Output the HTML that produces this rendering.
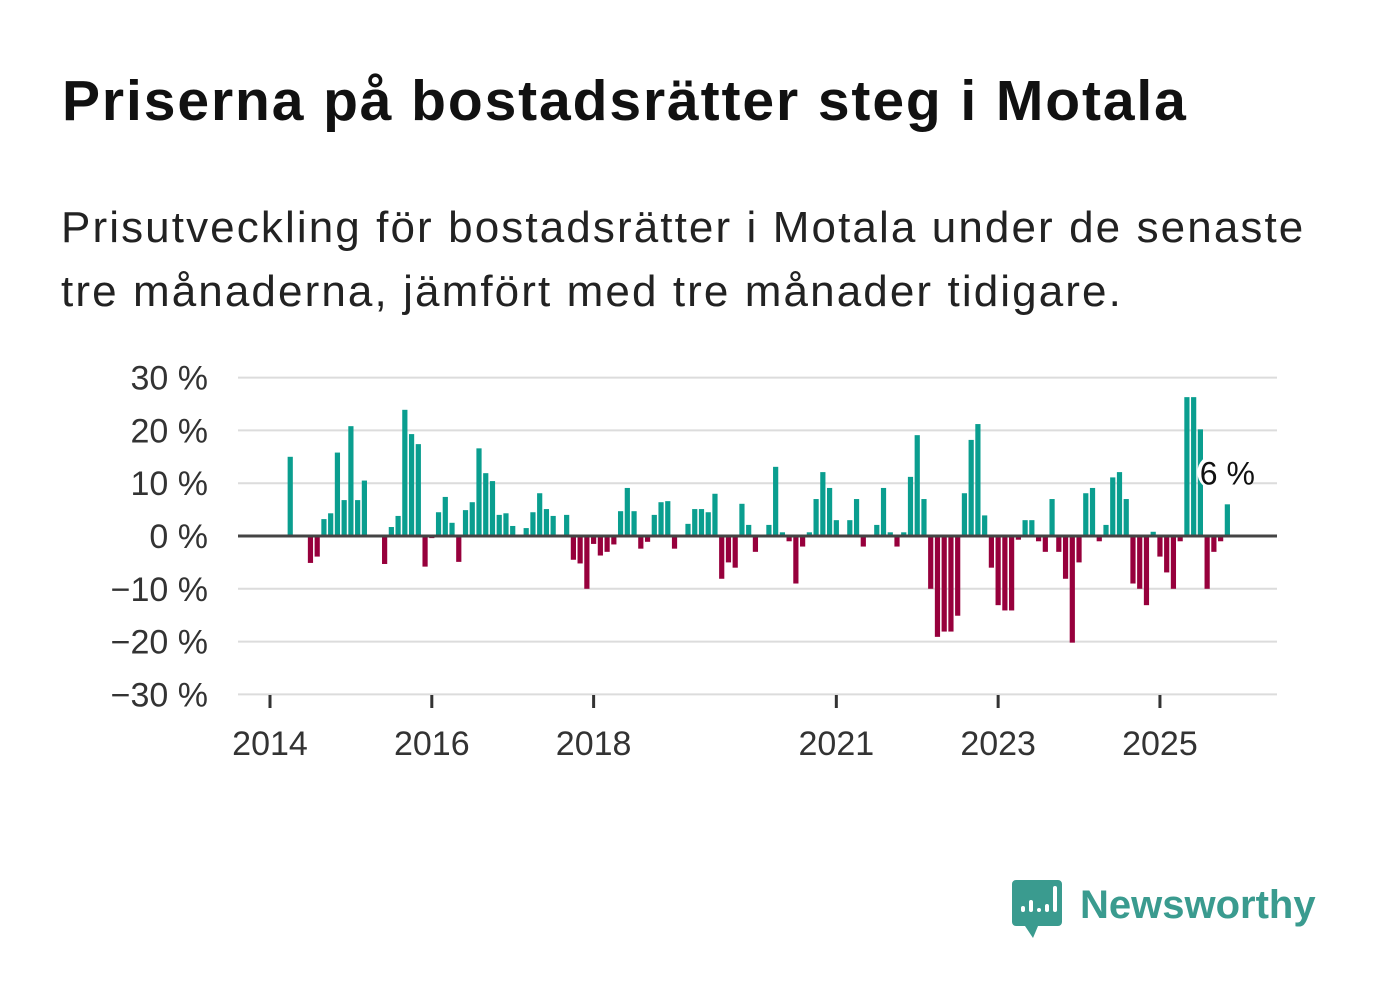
<!DOCTYPE html>
<html><head><meta charset="utf-8"><style>
html,body{margin:0;padding:0;background:#fff;width:1382px;height:999px;overflow:hidden;font-family:"Liberation Sans",sans-serif;}
#title{position:absolute;left:62px;top:68px;font-size:57px;line-height:66px;font-weight:bold;color:#111;margin:0;letter-spacing:1.9px;white-space:nowrap;}
#sub{position:absolute;left:61px;top:196px;font-size:44px;line-height:64px;color:#222;margin:0;letter-spacing:2.1px;white-space:nowrap;}
svg{position:absolute;left:0;top:0;}
</style></head><body>
<h1 id="title">Priserna på bostadsrätter steg i Motala</h1>
<p id="sub">Prisutveckling för bostadsrätter i Motala under de senaste<br>tre månaderna, jämfört med tre månader tidigare.</p>
<svg id="chart" width="1382" height="999"></svg>
<script>
// values by month index starting April 2014 (null = no bar)
const startMonth = 3; // months after Jan 2014
const values = [15,null,null,-5.1,-3.9,3.2,4.3,15.8,6.8,20.8,6.8,10.5,null,null,-5.3,1.7,3.8,23.9,19.3,17.4,
-5.8,-0.4,4.5,7.4,2.5,-4.9,4.9,6.4,16.6,11.9,10.4,4.0,4.3,1.9,null,1.5,4.5,8.1,5.1,3.8,
null,4.0,-4.5,-5.2,-10,-1.5,-3.7,-3.0,-1.6,4.7,9.1,4.7,-2.4,-1.1,4.0,6.4,6.6,-2.4,null,2.3,
5.1,5.1,4.5,8.0,-8.1,-5.0,-6.0,6.1,2.1,-3.0,null,2.1,13.1,0.7,-1.0,-9.0,-2.0,0.7,7.0,12.1,
9.1,3.0,null,3.0,7.0,-2.0,null,2.1,9.1,0.7,-2.0,0.7,11.2,19.1,7.0,-10.0,-19.1,-18.1,-18.1,-15.1,
8.1,18.2,21.2,3.9,-6.0,-13.1,-14.1,-14.1,-0.7,3.0,3.0,-1.0,-3.0,7.0,-3.0,-8.1,-20.2,-5.0,8.1,9.1,
-1.0,2.1,11.1,12.1,7.0,-9.0,-10.0,-13.1,0.8,-3.9,-6.9,-10.0,-1.0,26.3,26.3,20.2,-10.0,-3.0,-1.0,6.0];
const yTicks = [30,20,10,0,-10,-20,-30];
const yTickLabels = ["30 %","20 %","10 %","0 %","−10 %","−20 %","−30 %"];
const xTickYears = [2014,2016,2018,2021,2023,2025];
const lastLabel = "6 %";

const NS="http://www.w3.org/2000/svg";
const svg=document.getElementById('chart');
const y = v => 536 - v*5.28;
const x = m => 270 + m*6.742; // m = months since Jan 2014
function el(t,a){const e=document.createElementNS(NS,t);for(const k in a)e.setAttribute(k,a[k]);svg.appendChild(e);return e;}

yTicks.forEach((t,i)=>{
  if(t!==0){const g=el('line',{x1:238,x2:1277,y1:y(t),y2:y(t),stroke:'#dcdcdc','stroke-width':2});
  
  }
  const tx=el('text',{x:208,y:y(t)+12,'text-anchor':'end','font-size':34,fill:'#333','font-family':'Liberation Sans, sans-serif'});
  tx.textContent=yTickLabels[i];
  
  
});
xTickYears.forEach(yr=>{
  const m=(yr-2014)*12;
  const l=el('line',{x1:x(m),x2:x(m),y1:695,y2:708,stroke:'#333','stroke-width':3});
  
  
  const tx=el('text',{x:x(m),y:755,'text-anchor':'middle','font-size':34,fill:'#333','font-family':'Liberation Sans, sans-serif'});
  tx.textContent=yr;
  
  
});
values.forEach((v,i)=>{
  if(v===null)return;
  const cx=x(startMonth+i);
  const r=el('rect',{x:cx-2.6,y:Math.min(y(v),y(0)),width:5.2,height:Math.abs(y(v)-y(0)),fill:v>=0?'#0a9e8f':'#97003c'});
  
  
});
const zl=el('line',{x1:238,x2:1277,y1:y(0),y2:y(0),stroke:'#444','stroke-width':3});


const lastX=x(startMonth+values.length-1), lastV=values[values.length-1];
const bg=el('rect',{x:lastX-30,y:y(lastV)-50,width:58,height:36,rx:18,fill:'#fff'});


const lt=el('text',{x:lastX,y:y(lastV)-20,'text-anchor':'middle','font-size':32,fill:'#111','font-family':'Liberation Sans, sans-serif'});
lt.textContent=lastLabel;



// logo
const lg=el('g',{});


const p=document.createElementNS(NS,'path');
p.setAttribute('d','M1016 880 h42 a4 4 0 0 1 4 4 v38 a4 4 0 0 1 -4 4 h-20 l-5 12 l-8 -12 h-9 a4 4 0 0 1 -4 -4 v-38 a4 4 0 0 1 4 -4z');
p.setAttribute('fill','#3a9b8f');lg.appendChild(p);
[[1021,906,6],[1029,900,12],[1037,908,4],[1045,904,8],[1053,886,26]].forEach(b=>{
 const r=document.createElementNS(NS,'rect');r.setAttribute('x',b[0]);r.setAttribute('y',b[1]);r.setAttribute('width',4);r.setAttribute('height',b[2]);r.setAttribute('rx',2);r.setAttribute('fill','#fff');lg.appendChild(r);});
const nt=document.createElementNS(NS,'text');
nt.setAttribute('x',1080);nt.setAttribute('y',918);nt.setAttribute('font-size',40);nt.setAttribute('font-weight','bold');nt.setAttribute('fill','#3a9b8f');nt.setAttribute('font-family','Liberation Sans, sans-serif');
nt.textContent='Newsworthy';lg.appendChild(nt);
</script>
</body></html>
